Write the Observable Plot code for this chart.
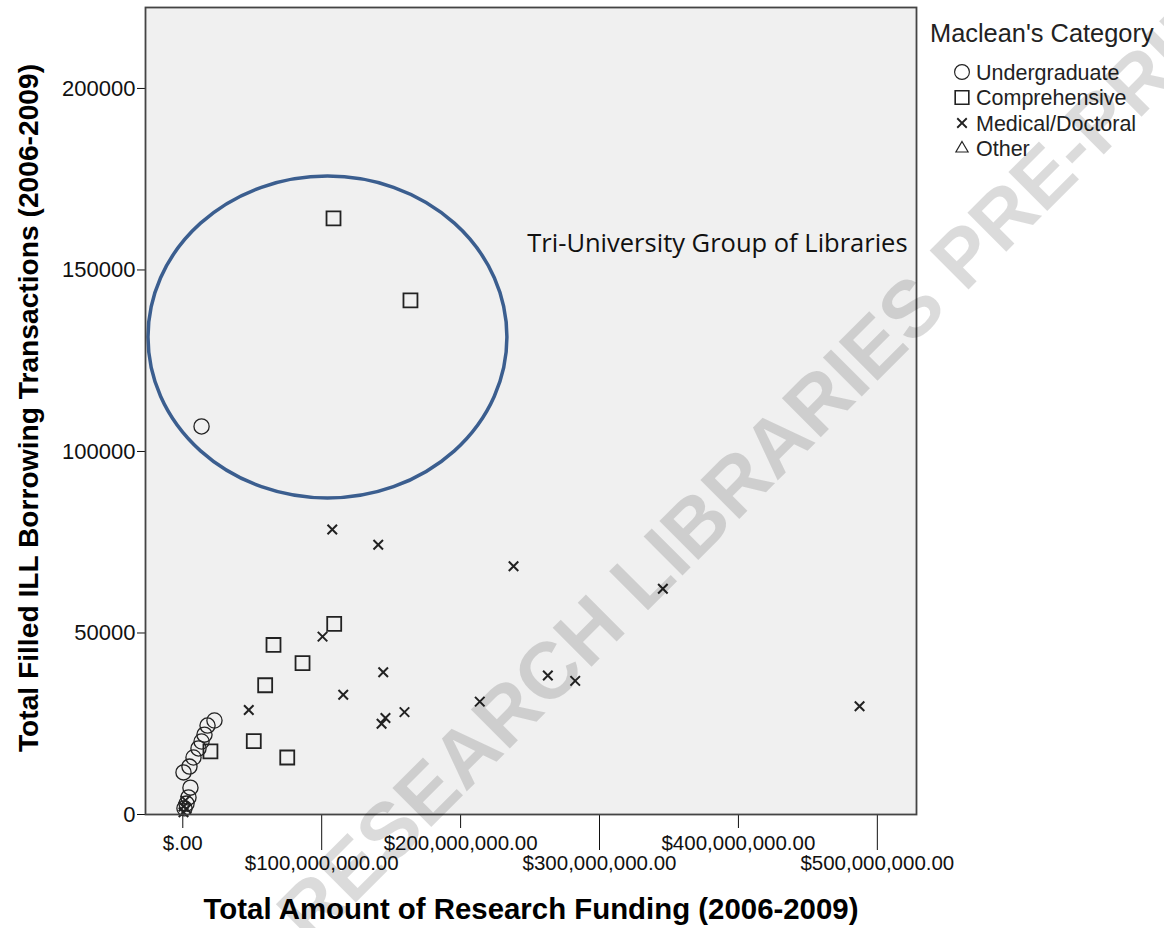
<!DOCTYPE html>
<html><head><meta charset="utf-8">
<script src="https://cdn.jsdelivr.net/npm/d3@7"></script>
<script src="https://cdn.jsdelivr.net/npm/@observablehq/plot@0.6"></script>
<style>
html,body{margin:0;padding:0;background:#fff;width:1164px;height:928px;overflow:hidden;}
body{position:relative;font-family:Arial,"Liberation Sans",sans-serif;}
#chart{position:absolute;left:0;top:0;}
#legend{position:absolute;left:0;top:0;}
#wm{position:absolute;left:292px;top:888px;height:80px;line-height:80px;white-space:nowrap;
  font-family:Arial,"Liberation Sans",sans-serif;font-weight:bold;font-size:80px;color:rgba(0,0,0,0.14);
  transform-origin:0 50%;transform:rotate(-45deg);pointer-events:none;}
</style></head><body>
<div id="chart"></div>
<svg id="legend" width="1164" height="200"></svg>
<div id="wm">RESEARCH LIBRARIES PRE-PRINT</div>
<script>
const categories = ["Undergraduate", "Comprehensive", "Medical/Doctoral", "Other"];

// Total Amount of Research Funding (2006-2009), dollars
const funding = [
  13.5e6, 22.8e6, 17.8e6, 15.6e6, 13.5e6, 11.3e6, 7.7e6, 4.8e6, 0.5e6, 5.5e6, 4.1e6, 2.7e6, 1.2e6,
  108.5e6, 163.9e6, 109.0e6, 65.3e6, 86.2e6, 59.3e6, 51.1e6, 75.2e6, 19.9e6,
  107.6e6, 140.7e6, 238.1e6, 345.6e6, 100.6e6, 144.3e6, 115.5e6, 47.5e6, 262.8e6, 282.5e6,
  213.8e6, 159.6e6, 145.9e6, 143.1e6, 487.2e6, 1.9e6, 0.5e6, 0.5e6, 2.7e6
];
// Total Filled ILL Borrowing Transactions (2006-2009)
const borrowing = [
  106900, 25900, 24500, 22000, 20100, 18200, 15700, 13200, 11600, 7400, 4700, 3000, 1700,
  164200, 141600, 52500, 46700, 41700, 35600, 20200, 15700, 17400,
  78500, 74300, 68400, 62200, 49000, 39200, 33000, 28800, 38300, 36800,
  31100, 28200, 26600, 25000, 29800, 3900, 2200, 600, 1600
];
const category = [
  ...Array(13).fill("Undergraduate"),
  ...Array(9).fill("Comprehensive"),
  ...Array(19).fill("Medical/Doctoral")
];

const xTicks = [0, 100e6, 200e6, 300e6, 400e6, 500e6];
const xTickLabels = ["$.00", "$100,000,000.00", "$200,000,000.00", "$300,000,000.00", "$400,000,000.00", "$500,000,000.00"];
const yTicks = [0, 50000, 100000, 150000, 200000];
const yTickLabels = ["0", "50000", "100000", "150000", "200000"];

const xTitle = "Total Amount of Research Funding (2006-2009)";
const yTitle = "Total Filled ILL Borrowing Transactions (2006-2009)";
const legendTitle = "Maclean's Category";
const noteLabel = "Tri-University Group of Libraries";
const noteAt = {x: 248e6, y: 157300};
// highlighted group outline (center and radii in data units)
const groupOutline = {cx: 104.5e6, cy: 131400, rx: 129.2e6, ry: 44350};

const data = funding.map((f, i) => ({funding: f, borrowing: borrowing[i], category: category[i]}));

const symbolOf = {"Undergraduate": "circle", "Comprehensive": "square2", "Medical/Doctoral": "times", "Other": "triangle2"};
const rOf = {"Undergraduate": 7.6, "Comprehensive": 8.9, "Medical/Doctoral": 4.4, "Other": 6};
const swOf = {"Undergraduate": 1.3, "Comprehensive": 1.8, "Medical/Doctoral": 2, "Other": 1.3};

const font = "Arial, 'Liberation Sans', sans-serif";

const outlineMark = (index, scales) => {
  const {x, y} = scales;
  const e = document.createElementNS("http://www.w3.org/2000/svg", "ellipse");
  e.setAttribute("cx", x(groupOutline.cx));
  e.setAttribute("cy", y(groupOutline.cy));
  e.setAttribute("rx", Math.abs(x(groupOutline.cx + groupOutline.rx) - x(groupOutline.cx)));
  e.setAttribute("ry", Math.abs(y(groupOutline.cy + groupOutline.ry) - y(groupOutline.cy)));
  e.setAttribute("fill", "none");
  e.setAttribute("stroke", "#3b5e8f");
  e.setAttribute("stroke-width", 3.5);
  return e;
};

const even = xTicks.filter((d, i) => i % 2 === 0);
const odd = xTicks.filter((d, i) => i % 2 === 1);
const xFmt = d => xTickLabels[xTicks.indexOf(d)];
const yFmt = d => yTickLabels[yTicks.indexOf(d)];

const plot = Plot.plot({
  width: 1164,
  height: 928,
  marginLeft: 145,
  marginRight: 248,
  marginTop: 7,
  marginBottom: 114,
  style: {fontFamily: font, color: "#111", background: "transparent", overflow: "visible"},
  x: {domain: [-26.85e6, 528.2e6]},
  y: {domain: [0, 222300]},
  marks: [
    Plot.frame({fill: "#f0f0f0"}),
    Plot.axisX(even, {tickSize: 14, tickPadding: 7, fontSize: 20.5, tickFormat: xFmt, label: null}),
    Plot.axisX(odd, {tickSize: 36, tickPadding: 5, fontSize: 20.5, tickFormat: xFmt, label: null}),
    Plot.axisY(yTicks, {tickSize: 8, tickPadding: 2, fontSize: 22, tickFormat: yFmt, label: null}),
    ...categories.map(c => Plot.dot(data.filter(d => d.category === c), {
      x: "funding", y: "borrowing", symbol: () => symbolOf[c], r: rOf[c],
      stroke: "#222", strokeWidth: swOf[c], fill: "none"
    })),
    outlineMark,
    Plot.text([noteLabel], {x: noteAt.x, y: noteAt.y, textAnchor: "start", fontFamily: "'Open Sans', Lato, sans-serif", fontSize: 25.5, fill: "#111"}),
    Plot.text([xTitle], {frameAnchor: "bottom", dy: 104, fontSize: 29.4, fontWeight: "bold", fill: "#000"}),
    Plot.text([yTitle], {frameAnchor: "left", textAnchor: "middle", dx: -117, dy: -3, rotate: -90, fontSize: 28.2, fontWeight: "bold", fill: "#000"}),
    Plot.frame({stroke: "#444", strokeWidth: 1.8})
  ]
});
document.getElementById("chart").appendChild(plot);

// legend
const lg = d3.select("#legend");
lg.append("text").attr("x", 930).attr("y", 42).attr("font-family", font).attr("font-size", 25.4).attr("fill", "#222").text(legendTitle);
categories.forEach((c, i) => {
  const cy = 72 + i * 25.5;
  const sym = {circle: d3.symbolCircle, square2: d3.symbolSquare2, times: d3.symbolTimes, triangle2: d3.symbolTriangle2}[symbolOf[c]];
  lg.append("path").attr("transform", `translate(962,${cy})`)
    .attr("d", d3.symbol(sym, Math.PI * rOf[c] * rOf[c] * (c === "Medical/Doctoral" ? 1 : 0.95))())
    .attr("fill", "none").attr("stroke", "#222").attr("stroke-width", swOf[c] * 0.9);
  lg.append("text").attr("x", 976).attr("y", cy + 7.5).attr("font-family", font).attr("font-size", 21.5).attr("fill", "#222").text(c);
});
</script>
</body></html>
